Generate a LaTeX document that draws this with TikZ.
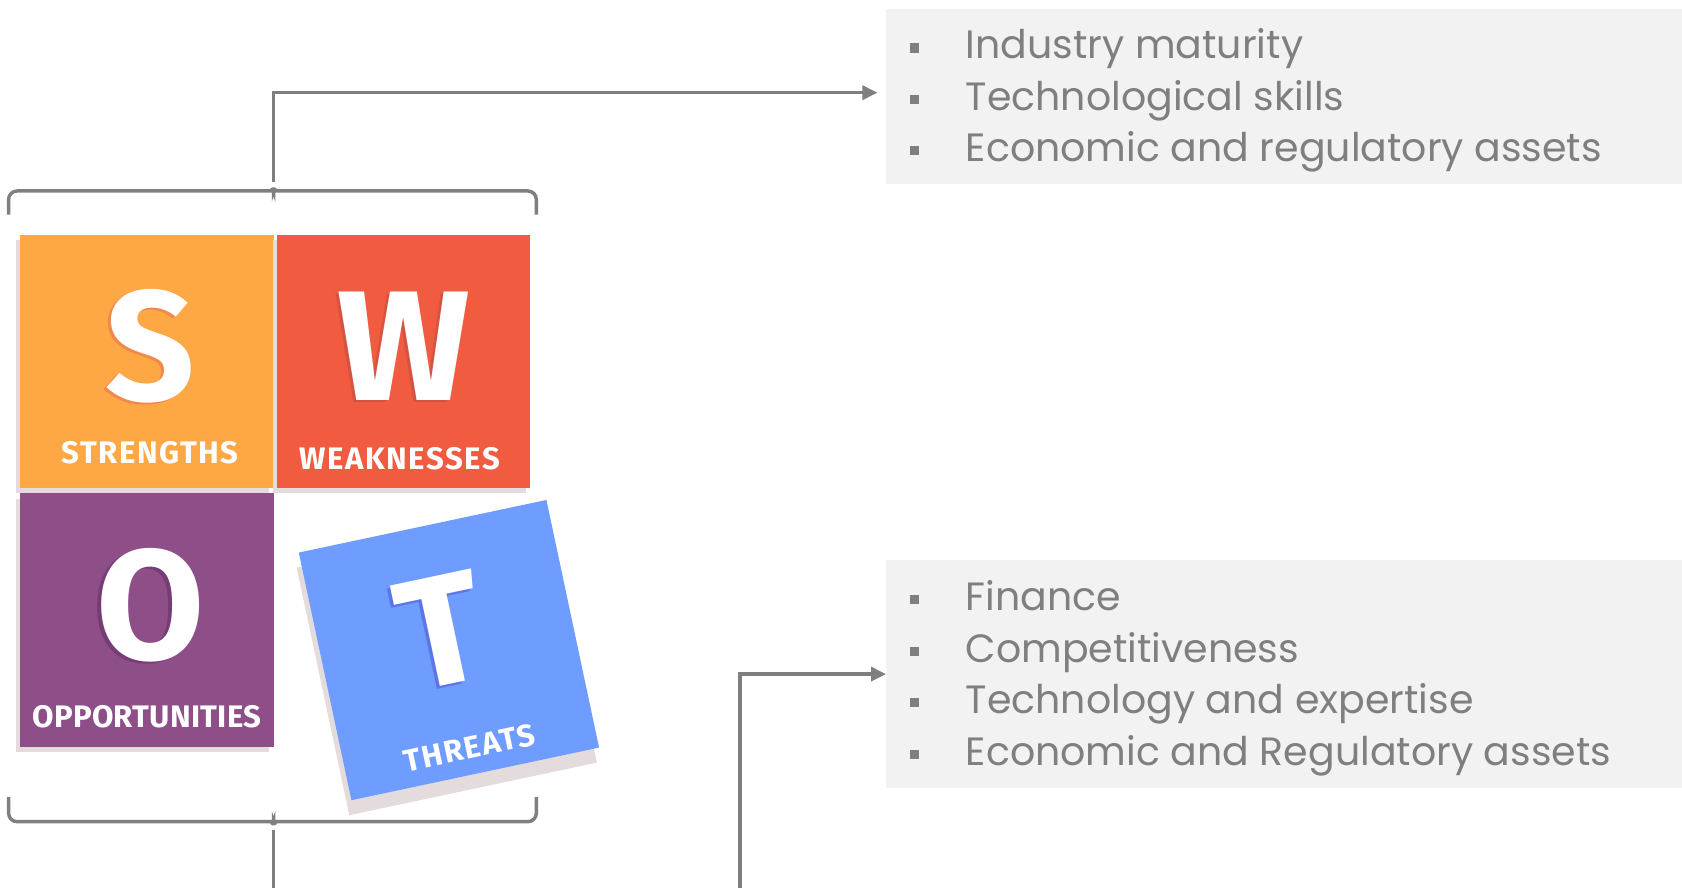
\documentclass[tikz,border=0pt]{standalone}
\usepackage{fontspec}
\setmainfont{Poppins}
\newfontfamily\tilefont{Fira Sans}
\newfontfamily\labelfont{Fira Sans}[LetterSpace=5]
\newfontfamily\labelfontnarrow{Fira Sans}[LetterSpace=1]
\usetikzlibrary{positioning,calc,arrows.meta,shadows}

\definecolor{swotS}{RGB}{253,168,69}
\definecolor{swotSd}{RGB}{240,137,76}
\definecolor{swotW}{RGB}{241,91,64}
\definecolor{swotWd}{RGB}{212,84,66}
\definecolor{swotO}{RGB}{142,79,137}
\definecolor{swotOd}{RGB}{118,60,118}
\definecolor{swotT}{RGB}{111,156,255}
\definecolor{swotTd}{RGB}{92,118,232}
\definecolor{tileshade}{RGB}{227,219,220}
\definecolor{linegray}{RGB}{127,127,127}
\definecolor{boxgray}{RGB}{242,242,242}

\newcommand{\sqbullet}{\makebox[26pt][l]{\rule[3pt]{4.2pt}{4.2pt}}}

\begin{document}
\begin{tikzpicture}[x=0.5pt,y=-0.5pt,
    tile/.style={minimum size=118pt,inner sep=0pt,outer sep=0pt},
    tileshadow/.style={general shadow={fill=tileshade,shadow xshift=-2pt,shadow yshift=-2.5pt}},
    bigletter/.style={font=\tilefont\bfseries\fontsize{73}{73}\selectfont,text=white,inner sep=0pt},
    tilelabel/.style={font=\labelfont\bfseries\fontsize{14.5}{14.5}\selectfont,text=white,inner sep=0pt},
    listbox/.style={fill=boxgray,anchor=north west,minimum width=371pt,inner sep=0pt},
    listtext/.style={anchor=west,inner sep=0pt,align=left,text=linegray,font=\fontsize{18.4}{24}\selectfont},
    brace/.style={draw=linegray,line width=1.6pt,rounded corners=4pt},
    link/.style={draw=linegray,line width=1.6pt,-{Triangle[length=7pt,width=6.5pt]}}]
    \useasboundingbox (0,0) rectangle (1568,827);

    % the four tiles
    \node[tile,tileshadow,fill=swotS] (S) at (137,337) {};
    \node[tile,tileshadow,fill=swotW] (W) at (376.5,337) {};
    \node[tile,tileshadow,fill=swotO] (O) at (137,578) {};
    \begin{scope}[shift={(418.5,606)},rotate=12,transform shape]
        \node[tile,fill=swotT,general shadow={fill=tileshade,shadow xshift=-1pt,shadow yshift=-7pt}] (T) at (0,0) {};
        \node[bigletter,text=swotTd] (Tshade) at (-6,-17) {T};
        \node[bigletter] (Tletter) at (-3,-19) {T};
        \node[tilelabel] (Tlabel) at (0,93) {THREATS};
    \end{scope}

    \node[bigletter,text=swotSd] (Sshade) at ($(S.south)!0.56!(S.north)+(0,2)$) {S};
    \node[bigletter] (Sletter) at ($(S.south)!0.56!(S.north)+(3,0)$) {S};
    \node[tilelabel] (Slabel) at ($(S.south)!0.14!(S.north)+(3,0)$) {STRENGTHS};
    \node[bigletter,text=swotWd] (Wshade) at ($(W.south)!0.56!(W.north)+(-3,2)$) {W};
    \node[bigletter] (Wletter) at ($(W.south)!0.56!(W.north)$) {W};
    \node[tilelabel] (Wlabel) at ($(W.south)!0.115!(W.north)+(-4,0)$) {WEAKNESSES};
    \node[bigletter,text=swotOd] (Oshade) at ($(O.south)!0.56!(O.north)+(0,2)$) {O};
    \node[bigletter] (Oletter) at ($(O.south)!0.56!(O.north)+(3,0)$) {O};
    \node[tilelabel,font=\labelfontnarrow\bfseries\fontsize{14.5}{14.5}\selectfont] (Olabel)
        at ($(O.south)!0.12!(O.north)$) {OPPORTUNITIES};

    % lists
    \node[listbox,minimum height=81.5pt] (topbox) at (826,8) {};
    \node[listtext] (toplist) at ($(topbox.west)+(22,4)$)
        {\sqbullet Industry maturity\\ \sqbullet Technological skills\\ \sqbullet Economic and regulatory assets};
    \node[listbox,minimum height=106pt] (botbox) at (826,522) {};
    \node[listtext] (botlist) at ($(botbox.west)+(22,4)$)
        {\sqbullet Finance\\ \sqbullet Competitiveness\\ \sqbullet Technology and expertise\\ \sqbullet Economic and Regulatory assets};

    % braces and links
    \draw[brace] (8,200) -- (8,178) -- (247,178) to[out=0,in=-90] (255,170)
        to[out=-90,in=180] (263,178) -- (500,178) -- (500,200);
    \draw[brace] (8,743) -- (8,766) -- (247,766) to[out=0,in=90] (255,774)
        to[out=90,in=180] (263,766) -- (500,766) -- (500,743);
    \coordinate (toptip) at (255,170);
    \coordinate (bottip) at (255,774);
    \coordinate (bend) at (690,840);
    \draw[link] (toptip) |- ([xshift=-4pt,yshift=1.75pt]topbox.west);
    \draw[link] (bottip) |- (bend) |- (botbox.west);
\end{tikzpicture}
\end{document}
